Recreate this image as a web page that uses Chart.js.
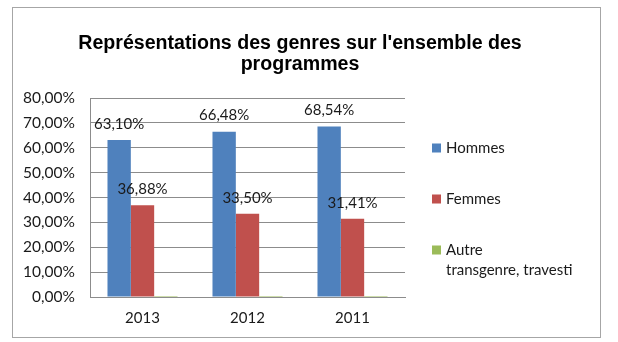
<!DOCTYPE html>
<html>
<head>
<meta charset="utf-8">
<script src="https://cdn.jsdelivr.net/npm/chart.js@4"></script>
<style>
  html, body { margin: 0; padding: 0; background: #fff; }
  #cadre {
    position: absolute; left: 12px; top: 7px; width: 589px; height: 331px;
    border: 1px solid #a6a6a6; box-sizing: border-box;
  }
  #graphe { position: absolute; left: 0; top: 0; }
</style>
</head>
<body>
<div id="cadre"></div>
<canvas id="graphe" width="618" height="342"></canvas>
<script>
const annees = ["2013", "2012", "2011"];
const hommes = [63.10, 66.48, 68.54];
const femmes = [36.88, 33.50, 31.41];
const autre = [0.02, 0.02, 0.05];
const titre = ["Représentations des genres sur l'ensemble des", "programmes"];
const nomsSeries = [["Hommes"], ["Femmes"], ["Autre", "transgenre, travesti"]];

const POLICE = "Lato, 'Open Sans', sans-serif";
const GRIS = "#8c8c8c";

function pourcent(v) {
  return v.toFixed(2).replace(".", ",") + "%";
}

// etiquettes de valeur au-dessus des barres (hommes et femmes seulement)
const etiquettes = {
  id: "etiquettes",
  afterDatasetsDraw(chart) {
    const ctx = chart.ctx;
    ctx.save();
    ctx.font = "15px " + POLICE;
    ctx.fillStyle = "#1a1a1a";
    ctx.textAlign = "center";
    ctx.textBaseline = "middle";
    [0, 1].forEach((i) => {
      const meta = chart.getDatasetMeta(i);
      meta.data.forEach((bar, j) => {
        ctx.fillText(pourcent(chart.data.datasets[i].data[j]), bar.x, bar.y - 16);
      });
    });
    ctx.restore();
  },
};

// legende a droite, avec libelle sur deux lignes pour la 3e serie
const legende = {
  id: "legende",
  afterDraw(chart) {
    const ctx = chart.ctx;
    const area = chart.chartArea;
    const x = area.right + 27;
    let y = area.top + 50;
    ctx.save();
    ctx.font = "15px " + POLICE;
    ctx.textBaseline = "middle";
    ctx.textAlign = "left";
    chart.data.datasets.forEach((ds, i) => {
      ctx.fillStyle = ds.backgroundColor;
      ctx.fillRect(x, y - 4.5, 9, 9);
      ctx.fillStyle = "#1a1a1a";
      nomsSeries[i].forEach((ligne, k) => {
        ctx.fillText(ligne, x + 14, y + k * 20);
      });
      y += 51;
    });
    ctx.restore();
  },
};

new Chart(document.getElementById("graphe"), {
  type: "bar",
  data: {
    labels: annees,
    datasets: [
      { label: "Hommes", data: hommes, backgroundColor: "#4f81bd" },
      { label: "Femmes", data: femmes, backgroundColor: "#c0504d" },
      { label: "Autre transgenre, travesti", data: autre, backgroundColor: "#9bbb59", minBarLength: 1 },
    ],
  },
  options: {
    responsive: false,
    animation: false,
    devicePixelRatio: 1,
    layout: { padding: { top: 0, right: 18, bottom: 0, left: 0 } },
    datasets: { bar: { categoryPercentage: 0.667, barPercentage: 1.0 } },
    plugins: {
      legend: { display: false },
      tooltip: { enabled: false },
      title: {
        display: true,
        text: titre,
        color: "#000",
        font: { family: "'Liberation Sans', Arial, sans-serif", size: 19.6, weight: "bold", lineHeight: "21px" },
        padding: { top: 33, bottom: 23 },
      },
    },
    scales: {
      x: {
        afterFit(scale) { scale.height = 45; },
        grid: { display: false, drawTicks: false },
        border: { display: true, color: GRIS, width: 1 },
        ticks: { color: "#1a1a1a", padding: 12, font: { family: POLICE, size: 15 } },
      },
      y: {
        min: 0,
        max: 80,
        afterFit(scale) { scale.width = 90; },
        grid: { color: GRIS, drawTicks: false },
        border: { display: true, color: GRIS, width: 1 },
        ticks: {
          stepSize: 10,
          padding: 15,
          color: "#1a1a1a",
          font: { family: POLICE, size: 15.5 },
          callback: (v) => pourcent(v),
        },
      },
      // axe vide a droite : reserve la place de la legende
      reserve: {
        position: "right",
        afterFit(scale) { scale.width = 195; },
        grid: { display: false },
        border: { display: false },
        ticks: { display: false },
      },
    },
  },
  plugins: [etiquettes, legende],
});
</script>
</body>
</html>
